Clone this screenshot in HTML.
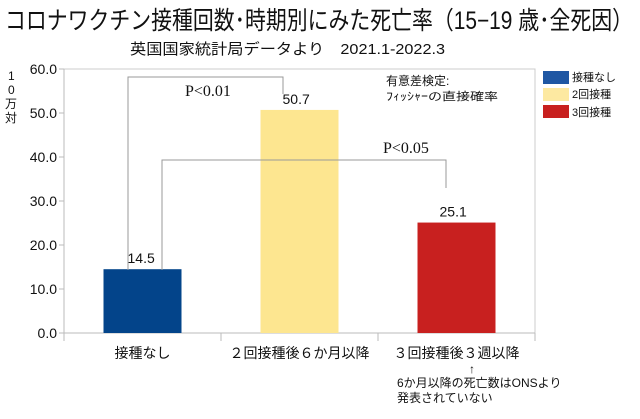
<!DOCTYPE html>
<html><head><meta charset="utf-8"><style>
body{margin:0;background:#fff;width:640px;height:419px;overflow:hidden}
svg{display:block}
text{font-family:"Liberation Sans","Noto Sans CJK JP",sans-serif;fill:#111}
.serif{font-family:"Liberation Serif","Noto Serif CJK SC",serif}
</style></head><body>
<svg id="chart" width="640" height="419">
<text x="5" y="29" font-size="25" textLength="628" lengthAdjust="spacingAndGlyphs">コロナワクチン接種回数･時期別にみた死亡率（15−19 歳･全死因）</text>
<text x="130" y="54" font-size="15" textLength="315" lengthAdjust="spacingAndGlyphs">英国国家統計局データより　2021.1-2022.3</text>
<g font-size="12">
<text x="8" y="80">1</text><text x="8" y="94">0</text><text x="5" y="108">万</text><text x="5" y="122">対</text>
</g>
<rect x="64" y="69" width="471" height="264" fill="none" stroke="#ccc"/>
<g id="axes"></g>
<g id="bars"></g>
<g fill="none" stroke="#999" stroke-width="1">
<polyline points="128,270 128,77 283,77 283,94"/>
</g>
<text x="185" y="96" font-size="16" class="serif">P&lt;0.01</text>
<g fill="none" stroke="#999" stroke-width="1">
<polyline points="162,270 162,160 446,160 446,188"/>
</g>
<text x="383" y="153" font-size="16" class="serif">P&lt;0.05</text>
<text x="386" y="85" font-size="12">有意差検定:</text>
<text x="386" y="100" font-size="11" textLength="112" lengthAdjust="spacingAndGlyphs">ﾌｨｯｼｬｰの直接確率</text>
<g font-size="11">
<rect x="543" y="71" width="26" height="13" fill="#1f57a3"/>
<text x="572" y="81">接種なし</text>
<rect x="543" y="88" width="26" height="13" fill="#fde9a1"/>
<text x="572" y="98">2回接種</text>
<rect x="543" y="105" width="26" height="13" fill="#c8201f"/>
<text x="572" y="116">3回接種</text>
</g>
<text x="472" y="373" font-size="12" text-anchor="middle">↑</text>
<text x="397" y="387" font-size="12">6か月以降の死亡数はONSより</text>
<text x="397" y="402" font-size="12">発表されていない</text>
</svg>
<script>
const categories=["接種なし","２回接種後６か月以降","３回接種後３週以降"];
const values=[14.5,50.7,25.1];
const valueLabels=["14.5","50.7","25.1"];
const yTicks=[0,10,20,30,40,50,60];
const yTickLabels=["0.0","10.0","20.0","30.0","40.0","50.0","60.0"];
const colors=["#03448a","#fde690","#c8201f"];
const NS="http://www.w3.org/2000/svg";
const x0=64,x1=535,yBase=333,yTop=69,yMax=60;
const y=v=>yBase-(v/yMax)*(yBase-yTop);
const band=(x1-x0)/categories.length;
const bx=i=>x0+band*i;
function mk(t,a,p){const e=document.createElementNS(NS,t);for(const k in a)e.setAttribute(k,a[k]);p.appendChild(e);return e;}
const axes=document.getElementById('axes'),bars=document.getElementById('bars');
mk('line',{x1:x0,y1:yTop,x2:x0,y2:yBase+8,stroke:'#bbb'},axes);
mk('line',{x1:x0,y1:yBase,x2:x1,y2:yBase,stroke:'#bbb'},axes);
yTicks.forEach((t,i)=>{
 mk('line',{x1:x0-5,y1:y(t),x2:x0,y2:y(t),stroke:'#bbb'},axes);
 const tx=mk('text',{x:x0-7,y:y(t)+5,'font-size':14,'text-anchor':'end'},axes);
 
 
 tx.textContent=yTickLabels[i];
});
for(let i=0;i<=categories.length;i++){mk('line',{x1:bx(i),y1:yBase,x2:bx(i),y2:yBase+8,stroke:'#bbb'},axes);}
categories.forEach((c,i)=>{
 const bw=78,cx=bx(i)+band/2;
 const r=mk('rect',{x:cx-bw/2,y:y(values[i]),width:bw,height:yBase-y(values[i]),fill:colors[i]},bars);
 
 
 const vl=mk('text',{x:cx-bw/2+(i==0?24:22),y:y(values[i])-6,'font-size':14},bars);
 
 
 vl.textContent=valueLabels[i];
 const cl=mk('text',{x:cx,y:yBase+25,'font-size':14,'text-anchor':'middle'},axes);
 
 
 cl.textContent=c;
});
</script>
</body></html>
